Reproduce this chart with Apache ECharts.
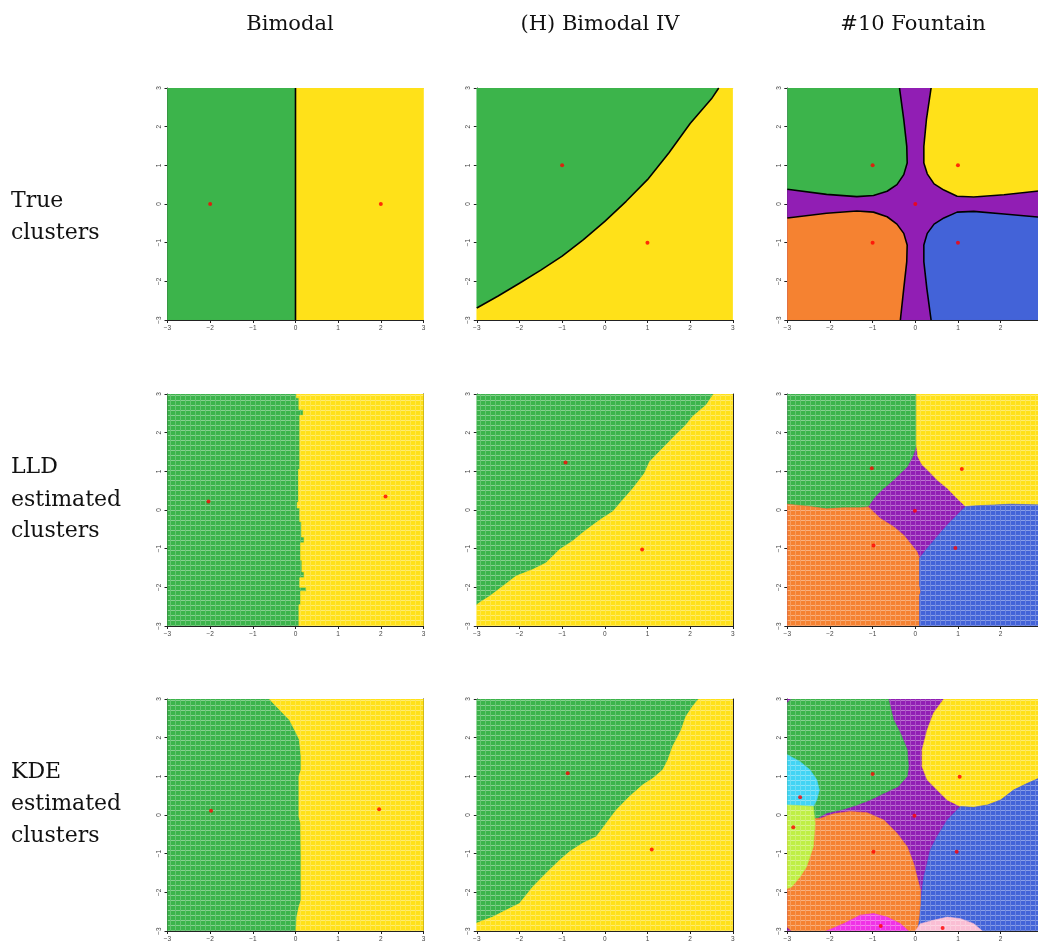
<!DOCTYPE html>
<html>
<head>
<meta charset="utf-8">
<script src="https://cdn.jsdelivr.net/npm/echarts@6/dist/echarts.min.js"></script>
<style>
html,body{margin:0;padding:0;background:#fff;overflow:hidden}
#chart{width:1052px;height:944px}
</style>
</head>
<body>
<div id="chart"></div>
<script>
// ---- labels ----
var colTitles = ['Bimodal', '(H) Bimodal IV', '#10 Fountain'];
var rowLabels = [['True', 'clusters'], ['LLD', 'estimated', 'clusters'], ['KDE', 'estimated', 'clusters']];
var tickValues = [-3, -2, -1, 0, 1, 2, 3];

var clusterColors = {
  green: '#3cb44b', yellow: '#ffe119', orange: '#f58231', blue: '#4363d8', purple: '#911eb4',
  cyan: '#42d4f4', lime: '#bfef45', magenta: '#f032e6', pink: '#fabed4'
};

// ---- row 1 : true clusters ----
var trueBimodalEdge = [[0, -3], [0, 3]];
var trueBimodalModes = [[-2, 0], [2, 0]];

var trueBimodalIVEdge = [[-3, -2.69], [-2.5, -2.38], [-2, -2.05], [-1.5, -1.71], [-1, -1.35], [-0.5, -0.92],
  [0, -0.45], [0.5, 0.07], [1, 0.63], [1.5, 1.32], [2, 2.08], [2.5, 2.72], [2.67, 3]];
var trueBimodalIVModes = [[-1, 1], [1, -1]];

var fountainGreenEdge = [[-0.37, 3], [-0.27, 2.18], [-0.2, 1.49], [-0.19, 1.06], [-0.27, 0.76], [-0.43, 0.5],
  [-0.66, 0.33], [-0.98, 0.22], [-1.37, 0.19], [-2.08, 0.25], [-3, 0.38]];
var fountainYellowEdge = [[0.37, 3], [0.26, 2.18], [0.2, 1.49], [0.2, 1.06], [0.28, 0.78], [0.44, 0.52],
  [0.67, 0.36], [0.98, 0.2], [1.37, 0.18], [2.08, 0.24], [3, 0.35]];
var fountainOrangeEdge = [[-3, -0.36], [-2.08, -0.24], [-1.37, -0.18], [-0.98, -0.21], [-0.66, -0.33], [-0.43, -0.52],
  [-0.27, -0.76], [-0.19, -1.06], [-0.2, -1.49], [-0.27, -2.18], [-0.35, -3]];
var fountainBlueEdge = [[0.37, -3], [0.27, -2.18], [0.2, -1.49], [0.2, -1.06], [0.28, -0.76], [0.44, -0.52],
  [0.67, -0.36], [0.98, -0.21], [1.37, -0.19], [2.08, -0.26], [3, -0.35]];
var trueFountainModes = [[-1, 1], [1, 1], [0, 0], [-1, -1], [1, -1]];

// ---- row 2 : LLD estimated ----
var lldBimodalEdge = [[0.02, 3], [0.02, 2.9], [0.08, 2.9], [0.08, 2.6], [0.18, 2.6], [0.18, 2.45], [0.1, 2.45],
  [0.1, 1.05], [0.07, 1.05], [0.07, 0.2], [0.04, 0.2], [0.04, 0.05], [0.1, 0.05], [0.1, -0.3], [0.14, -0.3],
  [0.14, -0.7], [0.2, -0.7], [0.2, -0.85], [0.12, -0.85], [0.12, -1.3], [0.15, -1.3], [0.15, -1.6], [0.2, -1.6],
  [0.2, -1.75], [0.1, -1.75], [0.1, -2.0], [0.25, -2.0], [0.25, -2.1], [0.12, -2.1], [0.12, -2.45], [0.08, -2.45], [0.08, -3]];
var lldBimodalModes = [[-2.04, 0.22], [2.11, 0.35]];

var lldBimodalIVEdge = [[2.55, 3], [2.38, 2.72], [2.06, 2.42], [1.9, 2.2], [1.67, 1.95], [1.28, 1.51], [1.05, 1.25],
  [0.93, 0.95], [0.66, 0.56], [0.42, 0.26], [0.19, -0.04], [-0.05, -0.21], [-0.28, -0.39], [-0.52, -0.59],
  [-0.75, -0.8], [-1.06, -1.02], [-1.38, -1.37], [-1.69, -1.54], [-2.08, -1.71], [-2.39, -1.97], [-2.7, -2.23],
  [-2.94, -2.4], [-3, -2.45]];
var lldBimodalIVModes = [[-0.92, 1.23], [0.875, -1.02]];

var lldFountainGreen = [[-3, 3], [0.025, 3], [0.025, 1.69], [-0.02, 1.51], [-0.08, 1.34], [-0.19, 1.12], [-0.35, 0.95],
  [-0.55, 0.74], [-0.74, 0.56], [-0.94, 0.35], [-1.1, 0.1], [-1.29, 0.06], [-1.68, 0.06], [-2.08, 0.03], [-2.47, 0.09], [-3, 0.15]];
var lldFountainYellow = [[0.025, 3], [3, 3], [3, 0.13], [2.24, 0.15], [1.45, 0.11], [1.18, 0.09], [0.98, 0.3], [0.75, 0.56],
  [0.51, 0.78], [0.32, 1.0], [0.16, 1.17], [0.06, 1.38], [0.025, 1.69]];
var lldFountainOrange = [[-3, 0.15], [-2.47, 0.09], [-2.08, 0.03], [-1.68, 0.06], [-1.29, 0.06], [-1.1, 0.08],
  [-0.82, -0.22], [-0.51, -0.43], [-0.27, -0.65], [-0.08, -0.91], [0.04, -1.08], [0.1, -1.25], [0.1, -1.94],
  [0.13, -2.12], [0.1, -2.2], [0.1, -3], [-3, -3]];
var lldFountainBlue = [[0.1, -3], [0.1, -2.2], [0.13, -2.12], [0.1, -1.94], [0.1, -1.25], [0.28, -0.99], [0.51, -0.69],
  [0.75, -0.39], [0.98, -0.13], [1.18, 0.09], [1.45, 0.11], [2.24, 0.15], [3, 0.13], [3, -3]];
var lldFountainModes = [[-1.02, 1.08], [1.09, 1.06], [-0.01, -0.02], [-0.98, -0.92], [0.94, -0.98]];

// ---- row 3 : KDE estimated ----
var kdeBimodalEdge = [[-0.61, 3], [-0.53, 2.9], [-0.3, 2.64], [-0.14, 2.46], [-0.02, 2.2], [0.09, 1.95], [0.13, 1.51],
  [0.13, 1.17], [0.08, 1.0], [0.08, -0.04], [0.12, -0.22], [0.13, -1.08], [0.13, -2.2], [0.08, -2.38], [0.03, -2.64], [0.01, -3]];
var kdeBimodalModes = [[-1.98, 0.11], [1.96, 0.15]];

var kdeBimodalIVEdge = [[2.2, 3], [2.06, 2.81], [1.9, 2.55], [1.79, 2.2], [1.59, 1.77], [1.48, 1.43], [1.36, 1.17],
  [1.13, 0.95], [0.89, 0.78], [0.58, 0.48], [0.27, 0.13], [0.03, -0.22], [-0.2, -0.56], [-0.52, -0.73],
  [-0.83, -0.95], [-1.06, -1.17], [-1.38, -1.51], [-1.69, -1.86], [-2.0, -2.29], [-2.31, -2.46], [-2.63, -2.64],
  [-2.94, -2.77], [-3, -2.79]];
var kdeBimodalIVModes = [[-0.87, 1.08], [1.1, -0.89]];

var kdeFountainGreen = [[-2.9, 3], [-0.63, 3], [-0.51, 2.46], [-0.35, 2.12], [-0.19, 1.69], [-0.16, 1.25], [-0.19, 1.0],
  [-0.4, 0.74], [-0.74, 0.56], [-1.06, 0.39], [-1.37, 0.26], [-1.68, 0.15], [-2.08, 0.05], [-2.31, -0.09], [-3, -0.09], [-3, 2.9]];
var kdeFountainYellow = [[0.67, 3], [3, 3], [3, 1.0], [2.63, 0.82], [2.31, 0.65], [2.0, 0.39], [1.69, 0.26], [1.37, 0.2],
  [1.06, 0.22], [0.75, 0.39], [0.51, 0.65], [0.28, 0.91], [0.16, 1.25], [0.16, 1.69], [0.28, 2.2], [0.43, 2.64]];
var kdeFountainBlue = [[1.06, 0.22], [1.37, 0.2], [1.69, 0.26], [2.0, 0.39], [2.31, 0.65], [2.63, 0.82], [3, 1.0], [3, -3],
  [0.04, -3], [0.08, -2.72], [0.12, -2.29], [0.16, -1.94], [0.2, -1.6], [0.28, -1.25], [0.35, -0.91], [0.51, -0.56], [0.75, -0.13]];
var kdeFountainOrange = [[-2.9, -3], [-3, -2.9], [-3, -0.09], [-2.23, -0.09], [-1.92, 0.03], [-1.53, 0.09], [-1.13, 0.06],
  [-0.74, -0.13], [-0.43, -0.47], [-0.19, -0.82], [-0.04, -1.25], [0.04, -1.6], [0.12, -1.94], [0.12, -2.29],
  [0.08, -2.72], [0.04, -3]];
var kdeFountainCyan = [[-3, 1.56], [-2.7, 1.38], [-2.47, 1.17], [-2.31, 0.91], [-2.25, 0.65], [-2.31, 0.39], [-2.39, 0.22], [-3, 0.26]];
var kdeFountainLime = [[-3, 0.26], [-2.39, 0.22], [-2.35, -0.22], [-2.39, -0.82], [-2.55, -1.34], [-2.7, -1.6], [-2.9, -1.86], [-3, -1.9]];
var kdeFountainMagenta = [[-2.08, -3], [-1.68, -2.81], [-1.29, -2.59], [-0.98, -2.55], [-0.66, -2.64], [-0.35, -2.81], [-0.16, -3]];
var kdeFountainPink = [[0.0, -3], [0.12, -2.81], [0.43, -2.72], [0.75, -2.64], [1.06, -2.68], [1.37, -2.81], [1.57, -3]];
var kdeFountainModes = [[-1.0, 1.06], [1.04, 0.99], [-0.02, -0.02], [-2.7, 0.46], [-2.86, -0.32], [-0.98, -0.95],
  [0.97, -0.95], [-0.81, -2.87], [0.64, -2.92]];

var fullSquare = [[-3, -3], [3, -3], [3, 3], [-3, 3]];

// ---- panels ----
var panels = [
  {row: 0, col: 0, edges: [trueBimodalEdge], modes: trueBimodalModes, regions: [
    {c: 'green', pts: [[-3, 3]].concat(trueBimodalEdge.slice().reverse(), [[-3, -3]])},
    {c: 'yellow', pts: trueBimodalEdge.concat([[3, 3], [3, -3]])}]},
  {row: 0, col: 1, edges: [trueBimodalIVEdge], modes: trueBimodalIVModes, regions: [
    {c: 'green', pts: trueBimodalIVEdge.concat([[-3, 3]])},
    {c: 'yellow', pts: trueBimodalIVEdge.concat([[3, 3], [3, -3], [-3, -3]])}]},
  {row: 0, col: 2, edges: [fountainGreenEdge, fountainYellowEdge, fountainOrangeEdge, fountainBlueEdge], modes: trueFountainModes, regions: [
    {c: 'purple', pts: fullSquare},
    {c: 'green', pts: fountainGreenEdge.concat([[-3, 3]])},
    {c: 'yellow', pts: fountainYellowEdge.concat([[3, 3]])},
    {c: 'orange', pts: fountainOrangeEdge.concat([[-3, -3]])},
    {c: 'blue', pts: fountainBlueEdge.concat([[3, -3]])}]},
  {row: 1, col: 0, edges: [], modes: lldBimodalModes, regions: [
    {c: 'green', pts: [[-3, 3]].concat(lldBimodalEdge, [[-3, -3]])},
    {c: 'yellow', pts: lldBimodalEdge.concat([[3, -3], [3, 3]])}]},
  {row: 1, col: 1, edges: [], modes: lldBimodalIVModes, regions: [
    {c: 'green', pts: lldBimodalIVEdge.concat([[-3, 3]])},
    {c: 'yellow', pts: lldBimodalIVEdge.concat([[-3, -3], [3, -3], [3, 3]])}]},
  {row: 1, col: 2, edges: [], modes: lldFountainModes, regions: [
    {c: 'purple', pts: fullSquare},
    {c: 'green', pts: lldFountainGreen},
    {c: 'yellow', pts: lldFountainYellow},
    {c: 'orange', pts: lldFountainOrange},
    {c: 'blue', pts: lldFountainBlue}]},
  {row: 2, col: 0, edges: [], modes: kdeBimodalModes, regions: [
    {c: 'green', pts: [[-3, 3]].concat(kdeBimodalEdge, [[-3, -3]])},
    {c: 'yellow', pts: kdeBimodalEdge.concat([[3, -3], [3, 3]])}]},
  {row: 2, col: 1, edges: [], modes: kdeBimodalIVModes, regions: [
    {c: 'green', pts: kdeBimodalIVEdge.concat([[-3, 3]])},
    {c: 'yellow', pts: kdeBimodalIVEdge.concat([[-3, -3], [3, -3], [3, 3]])}]},
  {row: 2, col: 2, edges: [], modes: kdeFountainModes, regions: [
    {c: 'purple', pts: fullSquare},
    {c: 'green', pts: kdeFountainGreen},
    {c: 'yellow', pts: kdeFountainYellow},
    {c: 'blue', pts: kdeFountainBlue},
    {c: 'orange', pts: kdeFountainOrange},
    {c: 'cyan', pts: kdeFountainCyan},
    {c: 'lime', pts: kdeFountainLime},
    {c: 'magenta', pts: kdeFountainMagenta},
    {c: 'pink', pts: kdeFountainPink}]}
];

// ---- layout ----
var gridLeft = [167.5, 476.8, 787.3];
var gridTop = [88, 394, 699];
var gridW = 256, gridH = 232;
var titleX = [290, 600, 913];
var rowLabelY = [[201, 233], [467, 500, 531], [772, 804, 836]];

// grid-of-points look of the estimated panels
var textures = {};
function texture(name) {
  if (textures[name]) return textures[name];
  var c = document.createElement('canvas');
  c.width = 5; c.height = 5;
  var ctx = c.getContext('2d');
  ctx.fillStyle = clusterColors[name];
  ctx.fillRect(0, 0, 5, 5);
  ctx.fillStyle = 'rgba(255,255,255,0.22)';
  ctx.fillRect(0, 0, 1, 5);
  ctx.fillStyle = 'rgba(255,255,255,0.38)';
  ctx.fillRect(1, 0, 4, 1);
  textures[name] = {image: c, repeat: 'repeat'};
  return textures[name];
}

function minusLabel(v) { return v < 0 ? '\u2212' + Math.abs(v) : String(v); }

var grids = [], xAxes = [], yAxes = [], series = [], graphics = [];

panels.forEach(function (p, i) {
  grids.push({left: gridLeft[p.col], top: gridTop[p.row], width: gridW, height: gridH});
  var framed = p.row > 0;
  var axisFont = {fontSize: 6.5, color: '#444', fontFamily: 'Liberation Sans'};
  var xi = xAxes.length, yi = yAxes.length;
  xAxes.push({
    gridIndex: i, type: 'value', position: 'bottom', min: -3, max: 3, interval: 1,
    axisLine: {show: true, onZero: false, lineStyle: {color: '#222', width: 1}},
    axisTick: {show: true, length: 3, lineStyle: {color: '#222'}},
    axisLabel: Object.assign({margin: 5, formatter: minusLabel}, axisFont),
    splitLine: {show: false}
  });
  xAxes.push({
    gridIndex: i, type: 'value', position: 'top', min: -3, max: 3,
    axisLine: {show: true, onZero: false, lineStyle: {color: framed ? '#222' : '#cfcfcf', width: 1}},
    axisTick: {show: false}, axisLabel: {show: false}, splitLine: {show: false}
  });
  yAxes.push({
    gridIndex: i, type: 'value', position: 'left', min: -3, max: 3, interval: 1,
    axisLine: {show: true, onZero: false, lineStyle: {color: '#222', width: 1}},
    axisTick: {show: true, length: 3, lineStyle: {color: '#222'}},
    axisLabel: Object.assign({margin: 5, rotate: 90, formatter: minusLabel}, axisFont),
    splitLine: {show: false}
  });
  yAxes.push({
    gridIndex: i, type: 'value', position: 'right', min: -3, max: 3,
    axisLine: {show: framed, onZero: false, lineStyle: {color: '#222', width: 1}},
    axisTick: {show: false}, axisLabel: {show: false}, splitLine: {show: false}
  });

  series.push({
    type: 'custom', xAxisIndex: xi, yAxisIndex: yi, clip: true, silent: true, z: 1,
    data: p.regions.map(function () { return [0, 0]; }),
    renderItem: function (params, api) {
      var reg = p.regions[params.dataIndex];
      var pts = reg.pts.map(function (v) { return api.coord(v); });
      var base = clusterColors[reg.c];
      return {
        type: 'polygon', shape: {points: pts},
        style: {fill: framed ? texture(reg.c) : base, stroke: base, lineWidth: 0.6}
      };
    }
  });
  p.edges.forEach(function (edge) {
    series.push({
      type: 'line', xAxisIndex: xi, yAxisIndex: yi, data: edge, showSymbol: false, silent: true, z: 3,
      lineStyle: {color: '#000', width: 1.6}
    });
  });
  series.push({
    type: 'scatter', xAxisIndex: xi, yAxisIndex: yi, data: p.modes, symbol: 'circle', symbolSize: 4,
    silent: true, z: 5, itemStyle: {color: '#ff0000'}
  });
});

colTitles.forEach(function (t, c) {
  graphics.push({type: 'text', x: titleX[c], y: 25, style: {
    text: t, fill: '#111', font: '21px "DejaVu Serif"', textAlign: 'center', textVerticalAlign: 'middle'}});
});
rowLabels.forEach(function (lines, r) {
  lines.forEach(function (t, k) {
    graphics.push({type: 'text', x: 11, y: rowLabelY[r][k], style: {
      text: t, fill: '#111', font: '22px "DejaVu Serif"', textAlign: 'left', textVerticalAlign: 'middle'}});
  });
});

var chart = echarts.init(document.getElementById('chart'), null, {renderer: 'canvas'});
chart.setOption({
  animation: false,
  backgroundColor: '#fff',
  grid: grids,
  xAxis: xAxes,
  yAxis: yAxes,
  series: series,
  graphic: graphics
});
</script>
</body>
</html>
